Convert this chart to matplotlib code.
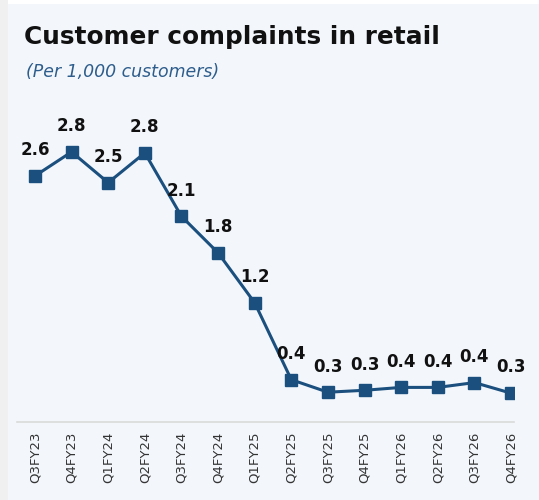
import matplotlib.pyplot as plt
from matplotlib.patches import Rectangle

quarters = ['Q3FY23', 'Q4FY23', 'Q1FY24', 'Q2FY24', 'Q3FY24', 'Q4FY24', 'Q1FY25',
            'Q2FY25', 'Q3FY25', 'Q4FY25', 'Q1FY26', 'Q2FY26', 'Q3FY26', 'Q4FY26']
complaints = [2.56, 2.81, 2.49, 2.80, 2.14, 1.76, 1.24, 0.44, 0.31, 0.33, 0.36, 0.36, 0.41, 0.30]
labels = ['2.6', '2.8', '2.5', '2.8', '2.1', '1.8', '1.2', '0.4', '0.3', '0.3', '0.4', '0.4', '0.4', '0.3']

line_color = '#1b4f7e'
panel_color = '#f3f7fc'

fig = plt.figure(figsize=(5.39, 5.00), dpi=100)
fig.patch.set_facecolor('white')
# light gray strip on the left, panel behind everything
fig.patches.append(Rectangle((0, 0), 8 / 539, 1, transform=fig.transFigure,
                             facecolor='#f0f0f0', edgecolor='none', zorder=-2))
fig.patches.append(Rectangle((8 / 539, 0), 1, 1 - 4 / 500, transform=fig.transFigure,
                             facecolor=panel_color, edgecolor='none', zorder=-1))

# axes: left 17px, right 514px, bottom (y=0) at 422px, top ~100px
ax = fig.add_axes([17 / 539, (500 - 422) / 500, (514 - 17) / 539, (422 - 100) / 500])
ax.set_facecolor('none')

x = range(len(quarters))
ax.plot(x, complaints, color=line_color, lw=2.2, marker='s', ms=8,
        markerfacecolor=line_color, markeredgecolor=line_color)

for i, (v, lab) in enumerate(zip(complaints, labels)):
    ax.annotate(lab, (i, v), xytext=(0, 12), textcoords='offset points',
                ha='center', va='bottom', fontsize=12, fontweight='bold', color='#111111')

ax.set_xlim(-0.49, 13.08)
ax.set_ylim(0, 3.35)
ax.set_xticks(list(x))
ax.set_xticklabels(quarters, rotation=90, fontsize=9.5, color='#333333')
ax.tick_params(axis='x', length=0, pad=7)
ax.set_yticks([])
for s in ['top', 'right', 'left']:
    ax.spines[s].set_visible(False)
ax.spines['bottom'].set_color('#d9d9d9')
ax.spines['bottom'].set_linewidth(1.2)

fig.text(24 / 539, 1 - 37 / 500, 'Customer complaints in retail', fontsize=17.8,
         fontweight='bold', color='#111111', va='center', ha='left')
fig.text(26 / 539, 1 - 72 / 500, '(Per 1,000 customers)', fontsize=12.5,
         style='italic', color='#2e5d8c', va='center', ha='left')

fig.savefig('out.png', dpi=100)
